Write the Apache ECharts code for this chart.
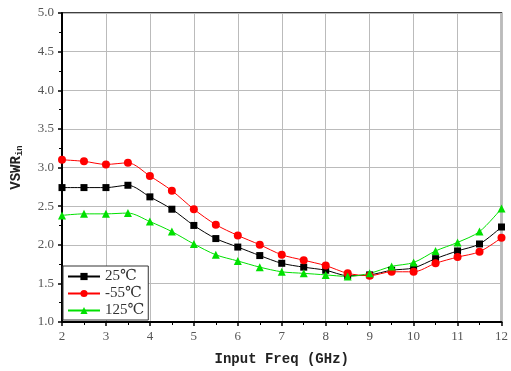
<!DOCTYPE html>
<html>
<head>
    <meta charset="utf-8" />
    <title>VSWR</title>
    <style>
        * { margin: 0; padding: 0 }
        html, body { width: 100%; height: 100%; background: #fff; }
        #chart { width: 511px; height: 371px; }
    </style>
</head>
<body>
    <div id="chart"></div>
    <script src="https://cdn.jsdelivr.net/npm/echarts@6/dist/echarts.min.js"></script>
    <script>
        // 频率点 (GHz)
        const freq = [2, 2.5, 3, 3.5, 4, 4.5, 5, 5.5, 6, 6.5, 7, 7.5, 8, 8.5, 9, 9.5, 10, 10.5, 11, 11.5, 12];
        const vswr25 = [2.74, 2.74, 2.74, 2.77, 2.62, 2.46, 2.25, 2.08, 1.97, 1.86, 1.76, 1.71, 1.67, 1.60, 1.61, 1.67, 1.70, 1.82, 1.92, 2.01, 2.23];
        const vswrM55 = [3.10, 3.08, 3.04, 3.06, 2.89, 2.70, 2.46, 2.26, 2.12, 2.00, 1.87, 1.80, 1.73, 1.63, 1.60, 1.65, 1.65, 1.76, 1.84, 1.91, 2.09];
        const vswr125 = [2.38, 2.40, 2.40, 2.41, 2.30, 2.17, 2.01, 1.87, 1.79, 1.71, 1.65, 1.63, 1.61, 1.59, 1.63, 1.72, 1.77, 1.92, 2.03, 2.17, 2.47];
        const names = ['25℃', '-55℃', '125℃'];

        const pair = (ys) => freq.map((f, i) => [f, ys[i]]);
        const serifFont = '"Liberation Serif", "DejaVu Serif", serif';
        const monoFont = '"Liberation Mono", "DejaVu Sans Mono", monospace';

        const chart = echarts.init(document.getElementById('chart'));
        const mkSeries = (name, ys, color, symbol, size) => ({
            name: name,
            type: 'line',
            data: pair(ys),
            smooth: 0.3,
            symbol: symbol,
            symbolSize: size,
            itemStyle: { color: color },
            lineStyle: { color: color, width: 1 },
            z: 3
        });
        chart.setOption({
            animation: false,
            grid: {
                left: 62, right: 6, top: 13, bottom: 49,
                show: true, borderColor: '#000', borderWidth: 1.5
            },
            legend: {
                orient: 'vertical',
                left: 63, bottom: 51,
                itemWidth: 32, itemHeight: 9,
                itemGap: 2,
                padding: [3, 4, 2, 4],
                borderColor: '#333', borderWidth: 1,
                backgroundColor: '#fff',
                textStyle: { fontFamily: serifFont, fontSize: 15, color: '#333' },
                data: names
            },
            xAxis: {
                type: 'value', min: 2, max: 12, interval: 1,
                name: 'Input Freq (GHz)', nameLocation: 'middle', nameGap: 30,
                nameTextStyle: { fontFamily: monoFont, fontSize: 14, fontWeight: 'bold', color: '#222' },
                axisLine: { lineStyle: { color: '#000', width: 2 } },
                axisTick: { length: 4, lineStyle: { color: '#000', width: 1.5 } },
                minorTick: { show: true, splitNumber: 2, length: 3, lineStyle: { color: '#000' } },
                axisLabel: { fontFamily: serifFont, fontSize: 13, color: '#555', margin: 8 },
                splitLine: { show: true, lineStyle: { color: '#bbb', width: 1 } }
            },
            yAxis: {
                type: 'value', min: 1, max: 5, interval: 0.5,
                name: '{a|VSWR}{b|in}', nameLocation: 'middle', nameGap: 38, nameRotate: 90,
                nameTextStyle: {
                    rich: {
                        a: { fontFamily: monoFont, fontSize: 14, fontWeight: 'bold', color: '#222' },
                        b: { fontFamily: monoFont, fontSize: 9, fontWeight: 'bold', color: '#222', verticalAlign: 'bottom', padding: [6, 0, 0, 0] }
                    }
                },
                axisLine: { show: true, lineStyle: { color: '#000', width: 2 } },
                axisTick: { show: true, length: 4, lineStyle: { color: '#000', width: 1.5 } },
                minorTick: { show: true, splitNumber: 2, length: 3, lineStyle: { color: '#000' } },
                axisLabel: { fontFamily: serifFont, fontSize: 13, color: '#555', margin: 8, formatter: v => v.toFixed(1) },
                splitLine: { show: true, lineStyle: { color: '#bbb', width: 1 } }
            },
            series: [
                mkSeries(names[0], vswr25, '#000000', 'rect', 7),
                mkSeries(names[1], vswrM55, '#ff0000', 'circle', 8),
                mkSeries(names[2], vswr125, '#00e000', 'triangle', 8)
            ]
        });
    </script>
</body>
</html>
